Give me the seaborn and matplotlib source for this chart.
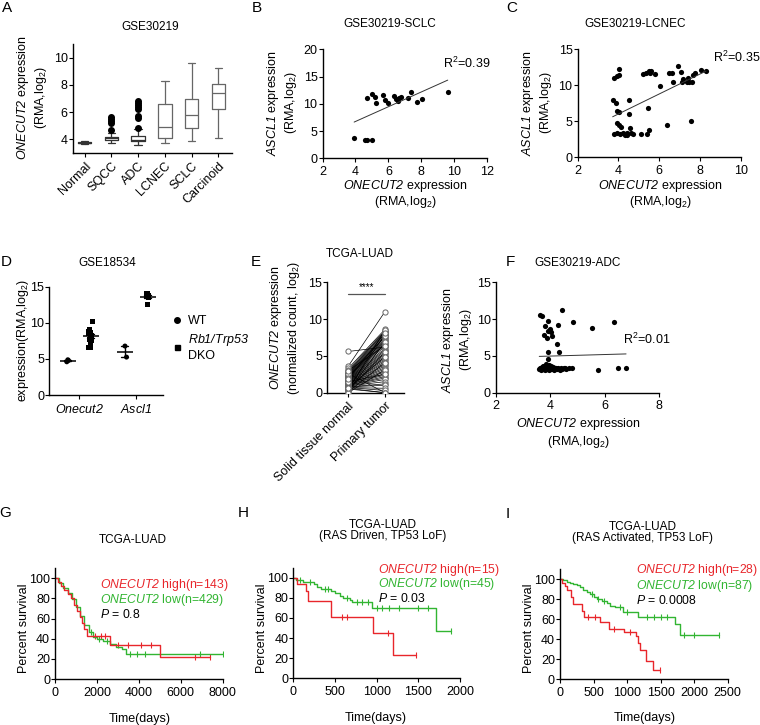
import numpy as np
import pandas as pd
import matplotlib
matplotlib.use("Agg")
import matplotlib.pyplot as plt
import seaborn as sns
from matplotlib.lines import Line2D

W, H = 760, 725

# ---------------- A: ONECUT2 by histology (box stats)
a_groups = ["Normal", "SQCC", "ADC", "LCNEC", "SCLC", "Carcinoid"]
a_med = [3.75, 4.05, 3.95, 4.9, 5.8, 7.4]
a_q1 = [3.71, 3.95, 3.85, 4.05, 4.85, 6.22]
a_q3 = [3.8, 4.15, 4.2, 6.6, 6.95, 8.05]
a_wlo = [3.65, 3.72, 3.6, 3.75, 3.85, 4.05]
a_whi = [3.9, 4.45, 4.75, 8.3, 9.6, 9.22]
a_fliers = [[], [4.65, 5.2, 5.35, 5.5, 5.65], [4.85, 5.55, 5.7, 6.2, 6.35, 6.5, 6.65, 6.8], [], [], []]

# ---------------- B: SCLC scatter
b_x = [3.92, 4.55, 4.69, 4.99, 4.71, 5.03, 5.19, 5.25, 5.66, 5.80, 6.0, 6.32, 6.48, 6.57, 6.65,
       6.77, 7.19, 7.39, 7.72, 8.04, 9.6]
b_y = [3.64, 3.39, 3.33, 3.39, 11.09, 11.76, 11.33, 10.06, 11.64, 10.67, 10.18, 11.52, 10.9, 10.55,
       11.03, 11.2, 11.03, 12.12, 10.3, 10.9, 12.18]

# ---------------- C: LCNEC scatter
c_x = [3.72, 3.89, 3.77, 3.92, 4.02, 4.05, 3.93, 4.02, 3.93, 4.05, 4.11, 3.79, 3.92, 4.08, 4.21,
       4.33, 4.41, 4.44, 4.57, 4.6, 4.7, 4.54, 4.5, 5.11, 5.41, 5.48, 5.45, 5.19, 5.35, 5.48,
       5.61, 5.54, 5.77, 6.05, 6.39, 6.49, 6.62, 6.68, 6.93, 7.07, 7.12, 7.17, 7.35, 7.43, 7.53,
       7.46, 7.61, 7.63, 7.76, 8.03, 8.28]
c_y = [7.92, 7.5, 10.97, 11.34, 12.22, 11.39, 6.39, 6.3, 4.81, 4.44, 4.17, 3.24, 3.33, 3.29, 3.33,
       3.15, 3.43, 3.06, 4.03, 3.38, 3.29, 7.92, 6.06, 3.29, 3.24, 3.8, 6.9, 11.53, 11.76, 12.04,
       12.04, 11.71, 11.57, 9.95, 4.54, 11.76, 11.76, 10.46, 12.69, 11.81, 10.51, 10.88, 10.51, 10.97, 5.05,
       10.46, 10.51, 11.39, 11.67, 12.13, 11.94]

# ---------------- D: mouse GSE18534
d_onecut2_wt = [4.88, 4.78, 4.6]
d_onecut2_dko = [10.2, 9.1, 9.06, 8.82, 8.64, 8.5, 8.36, 8.27, 7.7, 7.57, 7.1, 6.64, 6.64]
d_ascl1_wt = [6.78, 5.25]
d_ascl1_dko = [14.0, 14.0, 14.0, 13.75, 13.75, 13.7, 13.5, 13.45, 12.55]

# ---------------- E: TCGA paired normal / tumor
e_normal = [5.6, 3.6, 3.3, 3.1, 2.9, 2.8, 2.7, 2.6, 2.5, 2.5, 2.4, 2.3, 2.3, 2.2, 2.2, 2.1, 2.0, 2.0,
            1.9, 1.9, 1.8, 1.8, 1.7, 1.7, 1.6, 1.6, 1.5, 1.5, 1.4, 1.4, 1.3, 1.3, 1.2, 1.2, 1.1, 1.1,
            1.0, 1.0, 0.9, 0.9, 0.8, 0.8, 0.7, 0.7, 0.6, 0.5, 0.5, 0.4, 0.3, 0.2, 0.1, 0.0, 2.6, 3.0,
            1.5, 2.0, 0.6, 1.9]
e_tumor = [6.2, 11.0, 8.6, 8.4, 8.3, 8.2, 8.0, 7.8, 7.6, 7.5, 7.3, 7.1, 7.0, 6.8, 6.6, 6.5, 6.3, 6.0,
           5.8, 5.6, 5.4, 5.2, 5.0, 4.8, 4.6, 4.4, 4.2, 4.0, 3.8, 3.6, 3.4, 3.2, 3.0, 2.8, 2.6, 2.4,
           2.2, 2.0, 1.8, 1.5, 1.2, 1.0, 0.6, 0.3, 0.0, 0.0, 7.9, 8.5, 5.5, 6.9, 4.1, 3.1, 0.0, 6.4,
           2.5, 7.7, 4.9, 8.1]
e_labels = ["Solid tissue normal", "Primary tumor"]

# ---------------- F: ADC scatter
f_x = [3.63, 3.69, 3.91, 4.45, 3.82, 3.98, 4.04, 3.91, 4.28, 4.84, 5.52, 6.35, 3.79, 4.06, 3.89,
       4.24, 3.93, 4.33, 3.91,
       3.6, 3.62, 3.65, 3.68, 3.7, 3.72, 3.75, 3.78, 3.8, 3.82, 3.85, 3.87, 3.9, 3.92, 3.95, 3.97,
       4.0, 4.02, 4.05, 4.08, 4.1, 4.12, 4.15, 4.18, 4.2, 4.25, 4.3, 4.35, 4.4, 4.45, 4.5, 4.55,
       4.6, 4.7, 4.8, 5.75, 6.5, 6.79]
f_y = [10.5, 10.4, 9.8, 11.2, 9.0, 8.65, 8.3, 8.4, 9.2, 9.6, 8.8, 9.56, 7.8, 7.7, 7.5, 6.66, 5.5,
       5.5, 4.6,
       3.2, 3.4, 3.1, 3.3, 3.5, 3.2, 3.6, 3.3, 3.1, 3.4, 3.9, 3.2, 3.5, 3.3, 3.7, 3.1, 3.4, 3.2,
       3.6, 3.3, 3.2, 3.5, 3.1, 3.4, 3.3, 3.2, 3.4, 3.1, 3.3, 3.2, 3.4, 3.3, 3.2, 3.3, 3.4, 3.1,
       3.35, 3.35]

# ---------------- G/H/I: Kaplan-Meier step curves (time of step, survival after step)
g_hi_t = [0, 150, 300, 450, 600, 750, 900, 1050, 1200, 1300, 1400, 1510, 2610, 4990, 7400]
g_hi_s = [100, 96, 92, 88, 84, 80, 74, 68, 62, 56, 50, 43, 33.6, 22.3, 22.3]
g_hi_c = [1900, 2200, 2400, 3000, 3500, 4100, 4600, 6700, 7400]
g_lo_t = [0, 200, 400, 600, 800, 1000, 1200, 1400, 1600, 1800, 2000, 2300, 2600, 2900, 3200, 3380, 8000]
g_lo_s = [100, 95, 90, 85, 79, 72, 63, 54, 47, 42, 40, 38, 35, 32, 30, 25, 25]
g_lo_c = [1700, 2100, 2500, 3600, 3900, 4300, 6900, 8000]

h_hi_t = [0, 40, 150, 180, 452, 960, 1192, 1472]
h_hi_s = [100, 93.3, 86.7, 77.3, 60.5, 45.4, 22.7, 22.7]
h_hi_c = [580, 650, 1140, 1472]
h_lo_t = [0, 30, 120, 250, 290, 330, 450, 500, 560, 600, 680, 700, 950, 1712, 1890]
h_lo_s = [100, 97.8, 95.6, 93.3, 91.1, 88.9, 86.7, 84.4, 82.2, 80, 77.8, 75.6, 70.4, 47, 47]
h_lo_c = [80, 200, 380, 420, 640, 760, 820, 900, 1000, 1060, 1150, 1270, 1500, 1620, 1890]

i_hi_t = [0, 30, 70, 110, 160, 200, 330, 360, 590, 730, 950, 1130, 1160, 1200, 1280, 1380, 1490]
i_hi_s = [100, 96.4, 92.9, 89.3, 82.1, 75, 67.9, 62, 57, 50.5, 47, 43, 36, 29, 18, 9.5, 9.5]
i_hi_c = [420, 520, 800, 1050, 1490]
i_lo_t = [0, 50, 100, 150, 200, 250, 300, 350, 400, 450, 500, 550, 620, 700, 750, 820, 945, 1170,
          1715, 1790, 2370]
i_lo_s = [100, 98.9, 97.7, 96.6, 95.4, 94.3, 92, 89.7, 87.4, 85, 82.8, 80.5, 78.2, 75.9, 73.6,
          72.7, 67.7, 62.7, 55.3, 44.3, 44.3]
i_lo_c = [480, 560, 650, 900, 1000, 1300, 1400, 1500, 1600, 1850, 2000, 2370]

RED = "#e8262b"
GREEN = "#32b532"

sns.set_style("ticks")
plt.rcParams["font.family"] = ["Liberation Sans", "DejaVu Sans"]
plt.rcParams["mathtext.fontset"] = "custom"
plt.rcParams["mathtext.rm"] = "Liberation Sans"
plt.rcParams["mathtext.it"] = "Liberation Sans:italic"
# sf slot used for fully italic gene names (digits included)
plt.rcParams["mathtext.sf"] = "Liberation Sans:italic"
plt.rcParams["font.size"] = 9
plt.rcParams["axes.linewidth"] = 1.0
plt.rcParams["axes.edgecolor"] = "black"
plt.rcParams["xtick.color"] = "black"
plt.rcParams["ytick.color"] = "black"
plt.rcParams["xtick.labelsize"] = 9
plt.rcParams["ytick.labelsize"] = 9
plt.rcParams["xtick.major.size"] = 3
plt.rcParams["ytick.major.size"] = 2.6
plt.rcParams["xtick.major.pad"] = 2.5
plt.rcParams["ytick.major.pad"] = 1.0
plt.rcParams["text.color"] = "black"

fig = plt.figure(figsize=(7.6, 7.25), dpi=100)


def add_ax(left, top, right, bottom):
    # pixel box -> figure fraction
    return fig.add_axes([left / W, 1 - bottom / H, (right - left) / W, (bottom - top) / H])


def ftext(x, y, s, **kw):
    kw.setdefault("ha", "center")
    kw.setdefault("va", "center")
    fig.text(x / W, 1 - y / H, s, **kw)


def clean(ax):
    sns.despine(ax=ax)
    ax.set_xlabel("")
    ax.set_ylabel("")


def ital(s):
    return r"$\mathsf{" + s + "}$"


ONE = ital("ONECUT2")
ASC = ital("ASCL1")
RMA = "(RMA,log$_2$)"

# ---------------- panel A
ax = add_ax(72.7, 44.3, 231.7, 152.7)
stats = []
for i, g in enumerate(a_groups):
    stats.append(dict(label=g, med=a_med[i], q1=a_q1[i], q3=a_q3[i],
                      whislo=a_wlo[i], whishi=a_whi[i], fliers=a_fliers[i]))
for i, st in enumerate(stats):
    lc = "#333333" if i < 3 else "#666666"
    ax.bxp([st], positions=[i], widths=0.5, capwidths=0.28,
           boxprops=dict(color=lc, lw=0.9), whiskerprops=dict(color=lc, lw=0.9),
           capprops=dict(color=lc, lw=0.9), medianprops=dict(color=lc, lw=0.9),
           flierprops=dict(marker="o", mfc="black", mec="black", ms=4))
ax.set_xlim(-0.45, 5.5)
ax.set_ylim(3, 11)
ax.set_yticks([4, 6, 8, 10])
ax.set_xticks(range(len(a_groups)))
ax.set_xticklabels(a_groups, rotation=45, ha="right", rotation_mode="anchor")
clean(ax)
ftext(150, 27, "GSE30219", fontsize=8.5)
ftext(32, 98, ONE + " expression\n" + RMA, rotation=90, linespacing=1.1)


# ---------------- panel B / C / F scatters
def scatter_panel(ax, x, y, xlim, ylim, xticks, yticks):
    sns.scatterplot(x=x, y=y, ax=ax, color="black", s=14, linewidth=0)
    sns.regplot(x=np.array(x), y=np.array(y), ax=ax, scatter=False, ci=None, truncate=True,
                line_kws=dict(color="#333333", lw=0.7))
    ax.set_xlim(*xlim)
    ax.set_ylim(*ylim)
    ax.set_xticks(xticks)
    ax.set_yticks(yticks)
    clean(ax)


ax = add_ax(322.5, 49.3, 487.3, 158.3)
scatter_panel(ax, b_x, b_y, (2, 12), (0, 20), range(2, 13, 2), range(0, 21, 5))
ftext(390, 24, "GSE30219-SCLC", fontsize=8.5)
ftext(282, 103, ASC + " expression\n" + RMA, rotation=90, linespacing=1.1)
ftext(405, 194, ONE + " expression\n" + RMA, linespacing=1.05)
ftext(443, 63, "R$^2$=0.39", ha="left")

ax = add_ax(577.5, 49.3, 741, 157.3)
scatter_panel(ax, c_x, c_y, (2, 10), (0, 15), range(2, 11, 2), range(0, 16, 5))
ftext(635, 24, "GSE30219-LCNEC", fontsize=8.5)
ftext(537, 103, ASC + " expression\n" + RMA, rotation=90, linespacing=1.1)
ftext(660, 194, ONE + " expression\n" + RMA, linespacing=1.05)
ftext(713, 57, "R$^2$=0.35", ha="left")

ax = add_ax(495.7, 282.3, 659, 392.7)
scatter_panel(ax, f_x, f_y, (2, 8), (0, 15), range(2, 9, 2), range(0, 16, 5))
ftext(578, 263, "GSE30219-ADC", fontsize=8.5)
ftext(457, 340, ASC + " expression\n" + RMA, rotation=90, linespacing=1.1)
ftext(578, 433, ONE + " expression\n" + RMA, linespacing=1.15)
ftext(623, 339, "R$^2$=0.01", ha="left")

# ---------------- panel D
d_rows = ([("Onecut2", "WT", v) for v in d_onecut2_wt] + [("Onecut2", "DKO", v) for v in d_onecut2_dko]
          + [("Ascl1", "WT", v) for v in d_ascl1_wt] + [("Ascl1", "DKO", v) for v in d_ascl1_dko])
d_df = pd.DataFrame(d_rows, columns=["gene", "group", "value"])
order = ["Onecut2", "Ascl1"]
hue_order = ["WT", "DKO"]
ax = add_ax(49.3, 286.7, 163.3, 395)
np.random.seed(3)  # only for the small horizontal jitter of the dots
for grp, mk in [("WT", "o"), ("DKO", "s")]:
    sns.stripplot(data=d_df[d_df.group == grp], x="gene", y="value", hue="group", order=order,
                  hue_order=hue_order, dodge=True, jitter=0.07, marker=mk, size=3.6,
                  palette=["black", "black"], legend=False, ax=ax)
sns.pointplot(data=d_df, x="gene", y="value", hue="group", order=order, hue_order=hue_order,
              dodge=0.4, errorbar="se", capsize=0.12, markers="_", markersize=11,
              markeredgewidth=1.1, linestyle="none", palette=["black", "black"],
              err_kws=dict(lw=1.0), legend=False, ax=ax)
ax.set_xlim(-0.52, 1.47)
ax.set_ylim(0, 15)
ax.set_yticks([0, 5, 10, 15])
ax.set_xticks([0, 1])
ax.set_xticklabels([ital("Onecut2"), ital("Ascl1")])
clean(ax)
ftext(107, 263, "GSE18534", fontsize=8.5)
ftext(23, 340, "expression(RMA,log$_2$)", rotation=90)
handles = [Line2D([], [], marker="o", color="black", ls="none", markersize=4),
           Line2D([], [], marker="s", color="black", ls="none", markersize=3.6)]
fig.legend(handles, ["WT", ital("Rb1/Trp53") + "\nDKO"], loc="upper left",
           bbox_to_anchor=(164 / W, 1 - 309 / H), frameon=False, handletextpad=0.4,
           handlelength=1.0, labelspacing=0.4, borderpad=0, fontsize=9)

# ---------------- panel E
e_df = pd.DataFrame({
    "pair": list(range(len(e_normal))) * 2,
    "pos": [0] * len(e_normal) + [1] * len(e_tumor),
    "value": e_normal + e_tumor,
})
ax = add_ax(327.3, 282.3, 404, 392.7)
sns.lineplot(data=e_df, x="pos", y="value", units="pair", estimator=None, color="black",
             lw=0.5, ax=ax)
sns.scatterplot(data=e_df, x="pos", y="value", ax=ax, facecolor="white", edgecolor="#666666",
                s=14, linewidth=0.7, zorder=3)
ax.plot([0, 1], [13.4, 13.4], color="#555555", lw=0.9)
ax.text(0.5, 13.7, "****", ha="center", va="bottom", fontsize=7)
ax.set_xlim(-0.57, 1.52)
ax.set_ylim(0, 15)
ax.set_yticks([0, 5, 10, 15])
ax.set_xticks([0, 1])
ax.set_xticklabels(e_labels, rotation=45, ha="right", rotation_mode="anchor")
clean(ax)
ftext(360, 254, "TCGA-LUAD", fontsize=8.5)
ftext(285, 328, ONE + " expression\n(normalized count, log$_2$)", rotation=90, linespacing=1.1)


# ---------------- KM panels
def step_at(t, s, c):
    idx = np.searchsorted(np.array(t), np.array(c), side="right") - 1
    return np.array(s)[idx]


def km_panel(ax, curves, xmax, xstep):
    for t, s, c, col in curves:
        df = pd.DataFrame({"t": t, "s": s})
        sns.lineplot(data=df, x="t", y="s", ax=ax, color=col, lw=1.0, estimator=None,
                     sort=False, drawstyle="steps-post")
        sns.scatterplot(x=c, y=step_at(t, s, c), ax=ax, marker="|", color=col, s=14,
                        linewidth=0.8)
    ax.set_xlim(0, xmax)
    ax.set_ylim(0, 110)
    ax.set_xticks(range(0, xmax + 1, xstep))
    ax.set_yticks(range(0, 101, 20))
    clean(ax)


KMF = 8.8
ax = add_ax(55, 568.3, 222.7, 679)
km_panel(ax, [(g_lo_t, g_lo_s, g_lo_c, GREEN), (g_hi_t, g_hi_s, g_hi_c, RED)], 8000, 2000)
ftext(133, 540, "TCGA-LUAD", fontsize=8.5)
ftext(24, 628, "Percent survival", rotation=90)
ftext(140, 719, "Time(days)")
ftext(100, 585, ONE + " high(n=143)", ha="left", color=RED, fontsize=KMF)
ftext(100, 600, ONE + " low(n=429)", ha="left", color=GREEN, fontsize=KMF)
ftext(100, 615, r"$\it{P}$ = 0.8", ha="left", fontsize=KMF)

ax = add_ax(293.3, 567.7, 460, 678.3)
km_panel(ax, [(h_lo_t, h_lo_s, h_lo_c, GREEN), (h_hi_t, h_hi_s, h_hi_c, RED)], 2000, 500)
ftext(383, 525, "TCGA-LUAD", fontsize=8.5)
ftext(383, 536.5, "(RAS Driven, TP53 LoF)", fontsize=8.5)
ftext(262, 628, "Percent survival", rotation=90)
ftext(376, 718, "Time(days)")
ftext(378, 570, ONE + " high(n=15)", ha="left", color=RED, fontsize=KMF)
ftext(378, 584.5, ONE + " low(n=45)", ha="left", color=GREEN, fontsize=KMF)
ftext(378, 599, r"$\it{P}$ = 0.03", ha="left", fontsize=KMF)

ax = add_ax(560, 569.3, 727.7, 679.3)
km_panel(ax, [(i_lo_t, i_lo_s, i_lo_c, GREEN), (i_hi_t, i_hi_s, i_hi_c, RED)], 2500, 500)
ftext(643, 527, "TCGA-LUAD", fontsize=8.5)
ftext(643, 538.5, "(RAS Activated, TP53 LoF)", fontsize=8.5)
ftext(529, 628, "Percent survival", rotation=90)
ftext(645, 718, "Time(days)")
ftext(636, 570, ONE + " high(n=28)", ha="left", color=RED, fontsize=KMF)
ftext(636, 585.5, ONE + " low(n=87)", ha="left", color=GREEN, fontsize=KMF)
ftext(636, 600, r"$\it{P}$ = 0.0008", ha="left", fontsize=KMF)

# ---------------- panel letters
for lab, x, y in [("A", 7, 8), ("B", 257, 8), ("C", 512, 8), ("D", 6, 262), ("E", 256, 262),
                  ("F", 510, 262), ("G", 5, 513), ("H", 243, 513), ("I", 508, 514)]:
    ftext(x, y, lab, fontsize=11)

fig.savefig("out.png", dpi=100)
